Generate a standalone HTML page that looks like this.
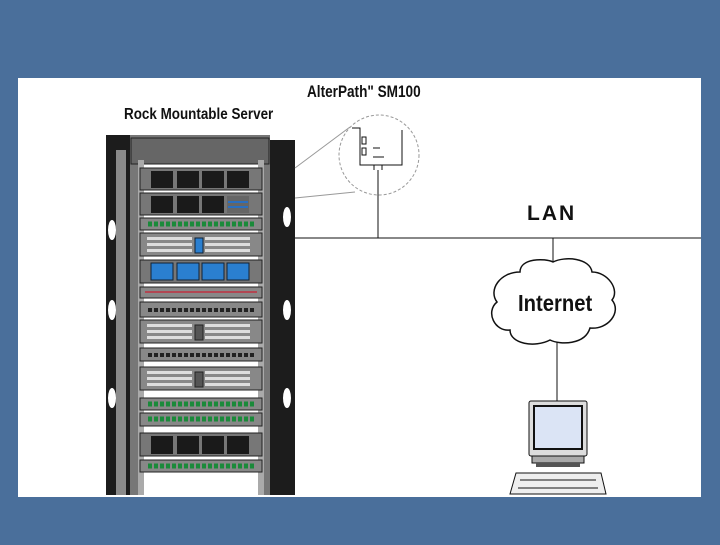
<!DOCTYPE html>
<html><head><style>body{margin:0;width:720px;height:540px;overflow:hidden;background:#4a6f9b}</style></head><body>
<svg width="720" height="540" viewBox="0 0 720 540" xmlns="http://www.w3.org/2000/svg" font-family="Liberation Sans, sans-serif">
<rect width="720" height="540" fill="#4a6f9b"/>
<rect x="18" y="78" width="683" height="419" fill="#fff"/>
<text x="307" y="97" font-size="17" font-weight="bold" transform="scale(0.8,1)" transform-origin="307 97" fill="#111">AlterPath" SM100</text>
<text x="124" y="119" font-size="16" font-weight="bold" transform="scale(0.84,1)" transform-origin="124 119" fill="#111">Rock Mountable Server</text>
<!-- rack -->
<rect x="106" y="135" width="25" height="360" fill="#1c1c1c"/>
<rect x="116" y="150" width="10" height="345" fill="#8a8a8a"/>
<rect x="270" y="140" width="25" height="355" fill="#1c1c1c"/>
<rect x="130" y="135" width="140" height="360" fill="#777"/>
<rect x="138" y="160" width="126" height="335" fill="#fff"/>
<rect x="131" y="138" width="138" height="26" fill="#666" stroke="#222"/>
<rect x="138" y="160" width="6" height="335" fill="#aaa"/>
<rect x="258" y="160" width="6" height="335" fill="#aaa"/>
<ellipse cx="112" cy="230" rx="4" ry="10" fill="#fff"/><ellipse cx="112" cy="310" rx="4" ry="10" fill="#fff"/><ellipse cx="112" cy="398" rx="4" ry="10" fill="#fff"/>
<ellipse cx="287" cy="217" rx="4" ry="10" fill="#fff"/><ellipse cx="287" cy="310" rx="4" ry="10" fill="#fff"/><ellipse cx="287" cy="398" rx="4" ry="10" fill="#fff"/>
<g stroke="#222" stroke-width="1">
<rect x="140" y="168" width="122" height="22" fill="#777"/>
<rect x="140" y="193" width="122" height="22" fill="#777"/>
<rect x="140" y="218" width="122" height="12" fill="#888"/>
<rect x="140" y="233" width="122" height="23" fill="#888"/>
<rect x="140" y="260" width="122" height="23" fill="#777"/>
<rect x="140" y="287" width="122" height="11" fill="#888"/>
<rect x="140" y="302" width="122" height="15" fill="#888"/>
<rect x="140" y="320" width="122" height="23" fill="#888"/>
<rect x="140" y="348" width="122" height="13" fill="#888"/>
<rect x="140" y="367" width="122" height="23" fill="#888"/>
<rect x="140" y="398" width="122" height="12" fill="#888"/>
<rect x="140" y="413" width="122" height="13" fill="#888"/>
<rect x="140" y="433" width="122" height="23" fill="#777"/>
<rect x="140" y="460" width="122" height="12" fill="#888"/>
</g>
<g fill="#1a1a1a">
<rect x="151" y="171" width="22" height="17"/><rect x="177" y="171" width="22" height="17"/><rect x="202" y="171" width="22" height="17"/><rect x="227" y="171" width="22" height="17"/>
<rect x="151" y="196" width="22" height="17"/><rect x="177" y="196" width="22" height="17"/><rect x="202" y="196" width="22" height="17"/>
<rect x="151" y="436" width="22" height="18"/><rect x="177" y="436" width="22" height="18"/><rect x="202" y="436" width="22" height="18"/><rect x="227" y="436" width="22" height="18"/>
</g>
<rect x="227" y="196" width="22" height="17" fill="#666"/><rect x="228" y="201" width="20" height="2" fill="#2a6fc0"/><rect x="228" y="206" width="20" height="2" fill="#2a6fc0"/>
<g fill="#2a7fd0" stroke="#123"><rect x="151" y="263" width="22" height="17"/><rect x="177" y="263" width="22" height="17"/><rect x="202" y="263" width="22" height="17"/><rect x="227" y="263" width="22" height="17"/></g>
<g fill="#ddd"><rect x="147" y="237" width="45" height="3"/><rect x="147" y="243" width="45" height="3"/><rect x="147" y="249" width="45" height="3"/><rect x="205" y="237" width="45" height="3"/><rect x="205" y="243" width="45" height="3"/><rect x="205" y="249" width="45" height="3"/>
<rect x="147" y="324" width="45" height="3"/><rect x="147" y="330" width="45" height="3"/><rect x="147" y="336" width="45" height="3"/><rect x="205" y="324" width="45" height="3"/><rect x="205" y="330" width="45" height="3"/><rect x="205" y="336" width="45" height="3"/>
<rect x="147" y="371" width="45" height="3"/><rect x="147" y="377" width="45" height="3"/><rect x="147" y="383" width="45" height="3"/><rect x="205" y="371" width="45" height="3"/><rect x="205" y="377" width="45" height="3"/><rect x="205" y="383" width="45" height="3"/></g>
<rect x="195" y="238" width="8" height="15" fill="#2a7fd0" stroke="#123"/>
<rect x="195" y="325" width="8" height="15" fill="#555" stroke="#222"/>
<rect x="195" y="372" width="8" height="15" fill="#555" stroke="#222"/>
<line x1="145" y1="292" x2="257" y2="292" stroke="#c03040" stroke-width="1.5"/>
<g stroke="#222" stroke-width="1" stroke-dasharray="4 2"><line x1="148" y1="310" x2="255" y2="310" stroke-width="4"/><line x1="148" y1="355" x2="255" y2="355" stroke-width="4"/></g>
<g stroke="#1a8a3a" stroke-width="5" stroke-dasharray="4 2"><line x1="148" y1="224" x2="255" y2="224"/><line x1="148" y1="404" x2="255" y2="404"/><line x1="148" y1="419" x2="255" y2="419"/><line x1="148" y1="466" x2="255" y2="466"/></g>
<!-- connectors -->
<line x1="295" y1="238" x2="701" y2="238" stroke="#111"/>
<line x1="378" y1="170" x2="378" y2="238" stroke="#111"/>
<circle cx="379" cy="155" r="40" fill="none" stroke="#999" stroke-dasharray="3 2"/>
<line x1="295" y1="168" x2="350" y2="127" stroke="#999"/>
<line x1="295" y1="198" x2="355" y2="192" stroke="#999"/>
<polyline points="352,128 360,128 360,165 402,165 402,130" fill="none" stroke="#111"/>
<rect x="362" y="137" width="4" height="7" fill="none" stroke="#111"/><rect x="362" y="148" width="4" height="7" fill="none" stroke="#111"/>
<line x1="373" y1="148" x2="380" y2="148" stroke="#111"/><line x1="373" y1="157" x2="384" y2="157" stroke="#111"/>
<line x1="374" y1="165" x2="374" y2="170" stroke="#111"/><line x1="382" y1="165" x2="382" y2="170" stroke="#111"/>
<text x="527" y="220" font-size="21" font-weight="bold" letter-spacing="2" fill="#111">LAN</text>
<line x1="553" y1="238" x2="553" y2="262" stroke="#111"/>
<path d="M520 272 C520 258 545 258 553 262 C565 256 590 258 592 272 C608 272 620 290 612 300 C622 312 608 330 590 328 C585 345 560 345 550 340 C535 348 510 344 510 330 C495 332 485 312 497 302 C488 290 500 272 520 272 Z" fill="#fff" stroke="#111" stroke-width="1.5"/>
<text x="518" y="311" font-size="23" font-weight="bold" transform="scale(0.88,1)" transform-origin="518 311" fill="#111">Internet</text>
<line x1="557" y1="342" x2="557" y2="402" stroke="#111"/>
<rect x="529" y="401" width="58" height="55" rx="2" fill="#ddd" stroke="#111"/>
<rect x="534" y="406" width="48" height="43" fill="#dbe4f5" stroke="#111" stroke-width="2"/>
<rect x="532" y="456" width="52" height="7" fill="#aaa" stroke="#111"/>
<rect x="536" y="463" width="44" height="4" fill="#555"/>
<path d="M516 473 L601 473 L606 494 L510 494 Z" fill="#eee" stroke="#111"/>
<line x1="520" y1="480" x2="596" y2="480" stroke="#111"/><line x1="518" y1="488" x2="598" y2="488" stroke="#111"/>
</svg>
</body></html>
